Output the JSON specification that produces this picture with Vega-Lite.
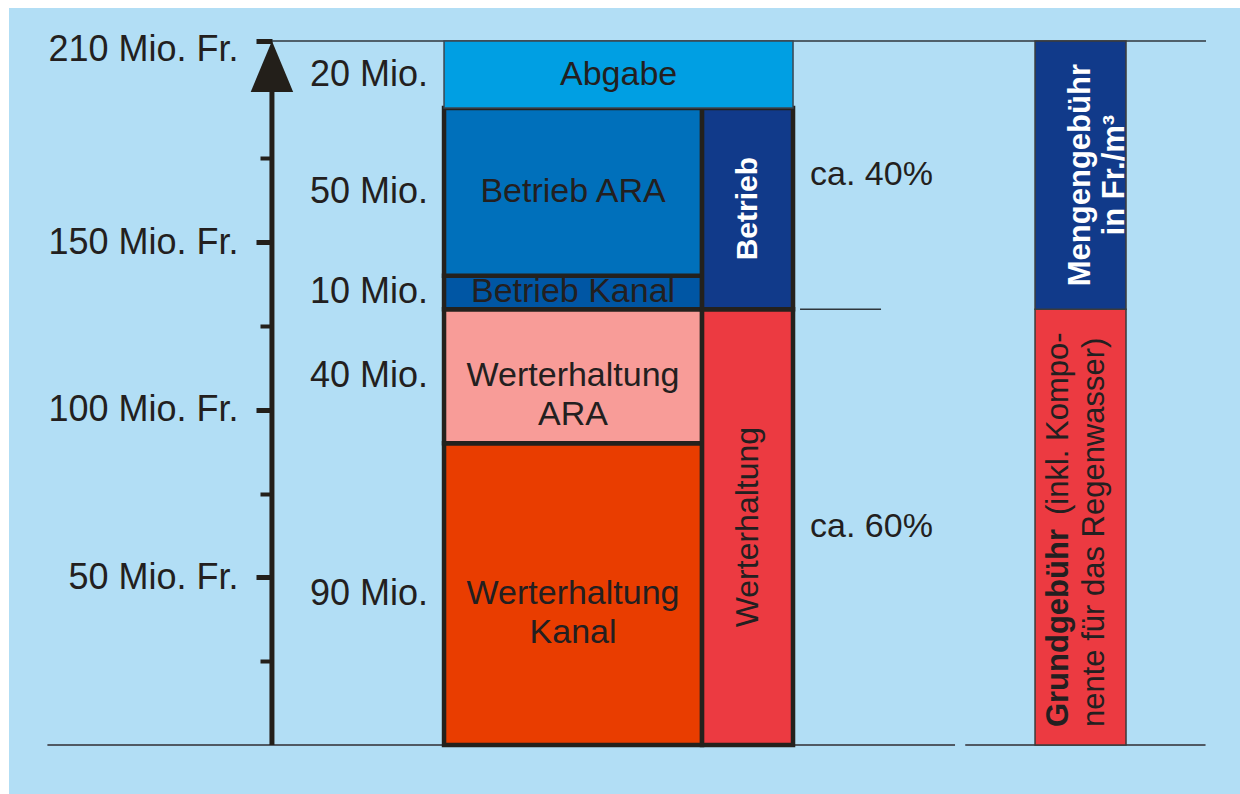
{
  "$schema": "https://vega.github.io/schema/vega-lite/v6.json",
  "width": 1231,
  "height": 786,
  "autosize": {"type": "none"},
  "padding": {"left": 9, "top": 8, "right": 0, "bottom": 0},
  "background": "#ffffff",
  "config": {
    "view": {"fill": "#b2def5", "stroke": null},
    "text": {"font": "Liberation Sans", "fontSize": 34, "color": "#231f20"},
    "axis": {"labelFont": "Liberation Sans", "labelColor": "#231f20", "tickColor": "#231f1a", "domain": false, "grid": false, "title": null, "labelBound": false, "labelFlush": false, "labelOverlap": false, "labelLimit": 0, "zindex": 1}
  },
  "resolve": {"axis": {"y": "independent"}},
  "datasets": {
    "segmente": [
      {"saeule": "Kosten", "posten": "Werterhaltung Kanal", "beschriftung": "Werterhaltung\nKanal", "betrag": 90, "reihenfolge": 1},
      {"saeule": "Kosten", "posten": "Werterhaltung ARA", "beschriftung": "Werterhaltung\nARA", "betrag": 40, "reihenfolge": 2},
      {"saeule": "Kosten", "posten": "Betrieb Kanal", "beschriftung": "Betrieb Kanal", "betrag": 10, "reihenfolge": 3},
      {"saeule": "Kosten", "posten": "Betrieb ARA", "beschriftung": "Betrieb ARA", "betrag": 50, "reihenfolge": 4},
      {"saeule": "Kosten", "posten": "Abgabe", "beschriftung": "Abgabe", "betrag": 20, "reihenfolge": 5},
      {"saeule": "Gruppe", "posten": "Werterhaltung", "beschriftung": "Werterhaltung", "betrag": 130, "reihenfolge": 1},
      {"saeule": "Gruppe", "posten": "Betrieb", "beschriftung": "Betrieb", "betrag": 60, "reihenfolge": 2},
      {"saeule": "Gebühr", "posten": "Grundgebühr", "beschriftung": "Grundgebühr", "zusatz1": "(inkl. Kompo-", "zusatz2": "nente für das Regenwasser)", "anteil": "ca. 60%", "betrag": 130, "reihenfolge": 1},
      {"saeule": "Gebühr", "posten": "Mengengebühr", "beschriftung": "Mengengebühr\nin Fr./m³", "anteil": "ca. 40%", "betrag": 80, "reihenfolge": 2}
    ]
  },
  "data": {"name": "segmente"},
  "transform": [
    {"stack": "betrag", "groupby": ["saeule"], "sort": [{"field": "reihenfolge", "order": "ascending"}], "as": ["von", "bis"]}
  ],
  "layer": [
    {
      "data": {"values": [{}]},
      "mark": {"type": "rule", "color": "#505963", "strokeWidth": 2},
      "encoding": {
        "x": {"datum": 3.12, "type": "quantitative", "scale": {"domain": [0, 100], "nice": false, "zero": false}, "axis": null},
        "x2": {"datum": 76.85},
        "y": {"datum": 0, "type": "quantitative", "scale": {"domain": [-14.6, 219.85], "nice": false, "zero": false}, "axis": null}
      }
    },
    {
      "data": {"values": [{}]},
      "mark": {"type": "rule", "color": "#505963", "strokeWidth": 2},
      "encoding": {
        "x": {"datum": 77.68, "type": "quantitative", "scale": {"domain": [0, 100], "nice": false, "zero": false}, "axis": null},
        "x2": {"datum": 97.2},
        "y": {"datum": 0, "type": "quantitative", "scale": {"domain": [-14.6, 219.85], "nice": false, "zero": false}, "axis": null}
      }
    },
    {
      "data": {"values": [{}]},
      "mark": {"type": "rule", "color": "#2f363c", "strokeWidth": 1.5},
      "encoding": {
        "x": {"datum": 21.36, "type": "quantitative", "scale": {"domain": [0, 100], "nice": false, "zero": false}, "axis": null},
        "x2": {"datum": 97.24},
        "y": {"datum": 210, "type": "quantitative", "scale": {"domain": [-14.6, 219.85], "nice": false, "zero": false}, "axis": null}
      }
    },
    {
      "data": {"values": [{}]},
      "mark": {"type": "rule", "color": "#2f363c", "strokeWidth": 1.5},
      "encoding": {
        "x": {"datum": 64.26, "type": "quantitative", "scale": {"domain": [0, 100], "nice": false, "zero": false}, "axis": null},
        "x2": {"datum": 70.84},
        "y": {"datum": 130, "type": "quantitative", "scale": {"domain": [-14.6, 219.85], "nice": false, "zero": false}, "axis": null}
      }
    },
    {
      "data": {"values": [{}]},
      "mark": {"type": "rule", "color": "#231f1a", "strokeWidth": 5},
      "encoding": {
        "x": {"datum": 21.36, "type": "quantitative", "scale": {"domain": [0, 100], "nice": false, "zero": false}, "axis": null},
        "y": {"datum": 0, "type": "quantitative", "scale": {"domain": [-14.6, 219.85], "nice": false, "zero": false}, "axis": null},
        "y2": {"datum": 200}
      }
    },
    {
      "data": {"values": [{}]},
      "mark": {"type": "point", "shape": "M0,0L-1,2.4L1,2.4Z", "size": 1806, "filled": true, "color": "#231f1a", "opacity": 1},
      "encoding": {
        "x": {"datum": 21.36, "type": "quantitative", "scale": {"domain": [0, 100], "nice": false, "zero": false}, "axis": null},
        "y": {"datum": 210, "type": "quantitative", "scale": {"domain": [-14.6, 219.85], "nice": false, "zero": false}, "axis": null}
      }
    },
    {
      "transform": [{"filter": "datum.saeule === 'Kosten' && datum.posten !== 'Abgabe'"}],
      "mark": {"type": "rect", "stroke": "#24211d", "strokeWidth": 4.5},
      "encoding": {
        "x": {"datum": 35.34, "type": "quantitative", "scale": {"domain": [0, 100], "nice": false, "zero": false}, "axis": null},
        "x2": {"datum": 56.3},
        "y": {
          "field": "von", "type": "quantitative",
          "scale": {"domain": [-14.6, 219.85], "nice": false, "zero": false},
          "axis": {
            "orient": "left",
            "offset": -263,
            "values": [50, 100, 150],
            "tickSize": 16,
            "tickWidth": 5,
            "labelExpr": "datum.value + ' Mio. Fr.'",
            "labelFontSize": 36,
            "labelPadding": 18
          }
        },
        "y2": {"field": "bis"},
        "color": {
          "field": "posten", "type": "nominal", "legend": null,
          "scale": {
            "domain": ["Abgabe", "Betrieb ARA", "Betrieb Kanal", "Werterhaltung ARA", "Werterhaltung Kanal", "Betrieb", "Werterhaltung", "Mengengebühr", "Grundgebühr"],
            "range": ["#009fe3", "#0070bb", "#0056a4", "#f89c98", "#e93d00", "#113a8a", "#ec3a41", "#113a8a", "#ec3a41"]
          }
        }
      }
    },
    {
      "transform": [{"filter": "datum.saeule === 'Gruppe'"}],
      "mark": {"type": "rect", "stroke": "#24211d", "strokeWidth": 4.5},
      "encoding": {
        "x": {"datum": 56.3, "type": "quantitative", "scale": {"domain": [0, 100], "nice": false, "zero": false}, "axis": null},
        "x2": {"datum": 63.69},
        "y": {
          "field": "von", "type": "quantitative",
          "scale": {"domain": [-14.6, 219.85], "nice": false, "zero": false},
          "axis": {
            "orient": "left",
            "offset": -263,
            "values": [25, 75, 125, 175],
            "tickSize": 12,
            "tickWidth": 4,
            "labels": false
          }
        },
        "y2": {"field": "bis"},
        "color": {
          "field": "posten", "type": "nominal", "legend": null,
          "scale": {
            "domain": ["Abgabe", "Betrieb ARA", "Betrieb Kanal", "Werterhaltung ARA", "Werterhaltung Kanal", "Betrieb", "Werterhaltung", "Mengengebühr", "Grundgebühr"],
            "range": ["#009fe3", "#0070bb", "#0056a4", "#f89c98", "#e93d00", "#113a8a", "#ec3a41", "#113a8a", "#ec3a41"]
          }
        }
      }
    },
    {
      "transform": [{"filter": "datum.posten === 'Abgabe'"}],
      "mark": {"type": "rect", "stroke": "#3b4650", "strokeWidth": 1.5},
      "encoding": {
        "x": {"datum": 35.34, "type": "quantitative", "scale": {"domain": [0, 100], "nice": false, "zero": false}, "axis": null},
        "x2": {"datum": 63.69},
        "y": {
          "field": "von", "type": "quantitative",
          "scale": {"domain": [-14.6, 219.85], "nice": false, "zero": false},
          "axis": {
            "orient": "left",
            "offset": -263,
            "values": [210],
            "tickSize": 16,
            "tickWidth": 5,
            "labelExpr": "datum.value + ' Mio. Fr.'",
            "labelFontSize": 36,
            "labelPadding": 18,
            "labelOffset": 8
          }
        },
        "y2": {"field": "bis"},
        "color": {
          "field": "posten", "type": "nominal", "legend": null,
          "scale": {
            "domain": ["Abgabe", "Betrieb ARA", "Betrieb Kanal", "Werterhaltung ARA", "Werterhaltung Kanal", "Betrieb", "Werterhaltung", "Mengengebühr", "Grundgebühr"],
            "range": ["#009fe3", "#0070bb", "#0056a4", "#f89c98", "#e93d00", "#113a8a", "#ec3a41", "#113a8a", "#ec3a41"]
          }
        }
      }
    },
    {
      "transform": [{"filter": "datum.saeule === 'Gebühr'"}],
      "mark": {"type": "rect", "stroke": "#3b3b3b", "strokeWidth": 1.5},
      "encoding": {
        "x": {"datum": 83.35, "type": "quantitative", "scale": {"domain": [0, 100], "nice": false, "zero": false}, "axis": null},
        "x2": {"datum": 90.74},
        "y": {"field": "von", "type": "quantitative", "scale": {"domain": [-14.6, 219.85], "nice": false, "zero": false}, "axis": null},
        "y2": {"field": "bis"},
        "color": {
          "field": "posten", "type": "nominal", "legend": null,
          "scale": {
            "domain": ["Abgabe", "Betrieb ARA", "Betrieb Kanal", "Werterhaltung ARA", "Werterhaltung Kanal", "Betrieb", "Werterhaltung", "Mengengebühr", "Grundgebühr"],
            "range": ["#009fe3", "#0070bb", "#0056a4", "#f89c98", "#e93d00", "#113a8a", "#ec3a41", "#113a8a", "#ec3a41"]
          }
        }
      }
    },
    {
      "transform": [
        {"filter": "datum.saeule === 'Kosten'"},
        {"fold": ["von", "bis"], "as": ["grenze", "wert"]}
      ],
      "mark": {"type": "text", "align": "right", "baseline": "middle", "fontSize": 36, "text": {"expr": "datum.betrag + ' Mio.'"}},
      "encoding": {
        "x": {"datum": 34.04, "type": "quantitative", "scale": {"domain": [0, 100], "nice": false, "zero": false}, "axis": null},
        "y": {"field": "wert", "aggregate": "mean", "type": "quantitative", "scale": {"domain": [-14.6, 219.85], "nice": false, "zero": false}, "axis": null},
        "detail": {"field": "betrag", "type": "quantitative"}
      }
    },
    {
      "transform": [
        {"filter": "datum.saeule === 'Kosten' && datum.posten !== 'Abgabe'"},
        {"fold": ["von", "bis"], "as": ["grenze", "wert"]}
      ],
      "mark": {"type": "text", "align": "center", "baseline": "middle", "lineBreak": "\n", "lineHeight": 39},
      "encoding": {
        "x": {"datum": 45.82, "type": "quantitative", "scale": {"domain": [0, 100], "nice": false, "zero": false}, "axis": null},
        "y": {"field": "wert", "aggregate": "mean", "type": "quantitative", "scale": {"domain": [-14.6, 219.85], "nice": false, "zero": false}, "axis": null},
        "text": {"field": "beschriftung", "type": "nominal"}
      }
    },
    {
      "transform": [
        {"filter": "datum.posten === 'Abgabe'"},
        {"fold": ["von", "bis"], "as": ["grenze", "wert"]}
      ],
      "mark": {"type": "text", "align": "center", "baseline": "middle"},
      "encoding": {
        "x": {"datum": 49.52, "type": "quantitative", "scale": {"domain": [0, 100], "nice": false, "zero": false}, "axis": null},
        "y": {"field": "wert", "aggregate": "mean", "type": "quantitative", "scale": {"domain": [-14.6, 219.85], "nice": false, "zero": false}, "axis": null},
        "text": {"field": "beschriftung", "type": "nominal"}
      }
    },
    {
      "transform": [
        {"filter": "datum.posten === 'Betrieb'"},
        {"fold": ["von", "bis"], "as": ["grenze", "wert"]}
      ],
      "mark": {"type": "text", "align": "center", "baseline": "middle", "angle": 270, "fontWeight": "bold", "fontSize": 30, "color": "#ffffff"},
      "encoding": {
        "x": {"datum": 60.0, "type": "quantitative", "scale": {"domain": [0, 100], "nice": false, "zero": false}, "axis": null},
        "y": {"field": "wert", "aggregate": "mean", "type": "quantitative", "scale": {"domain": [-14.6, 219.85], "nice": false, "zero": false}, "axis": null},
        "text": {"field": "beschriftung", "type": "nominal"}
      }
    },
    {
      "transform": [
        {"filter": "datum.posten === 'Werterhaltung'"},
        {"fold": ["von", "bis"], "as": ["grenze", "wert"]}
      ],
      "mark": {"type": "text", "align": "center", "baseline": "middle", "angle": 270, "fontSize": 32},
      "encoding": {
        "x": {"datum": 60.0, "type": "quantitative", "scale": {"domain": [0, 100], "nice": false, "zero": false}, "axis": null},
        "y": {"field": "wert", "aggregate": "mean", "type": "quantitative", "scale": {"domain": [-14.6, 219.85], "nice": false, "zero": false}, "axis": null},
        "text": {"field": "beschriftung", "type": "nominal"}
      }
    },
    {
      "transform": [
        {"filter": "datum.saeule === 'Gebühr'"},
        {"fold": ["von", "bis"], "as": ["grenze", "wert"]}
      ],
      "mark": {"type": "text", "align": "left", "baseline": "middle"},
      "encoding": {
        "x": {"datum": 65.07, "type": "quantitative", "scale": {"domain": [0, 100], "nice": false, "zero": false}, "axis": null},
        "y": {"field": "wert", "aggregate": "mean", "type": "quantitative", "scale": {"domain": [-14.6, 219.85], "nice": false, "zero": false}, "axis": null},
        "text": {"field": "anteil", "type": "nominal"}
      }
    },
    {
      "transform": [
        {"filter": "datum.posten === 'Mengengebühr'"},
        {"fold": ["von", "bis"], "as": ["grenze", "wert"]}
      ],
      "mark": {"type": "text", "align": "center", "baseline": "middle", "angle": 270, "fontWeight": "bold", "fontSize": 31, "color": "#ffffff", "lineBreak": "\n", "lineHeight": 34},
      "encoding": {
        "x": {"datum": 87.05, "type": "quantitative", "scale": {"domain": [0, 100], "nice": false, "zero": false}, "axis": null},
        "y": {"field": "wert", "aggregate": "mean", "type": "quantitative", "scale": {"domain": [-14.6, 219.85], "nice": false, "zero": false}, "axis": null},
        "text": {"field": "beschriftung", "type": "nominal"}
      }
    },
    {
      "transform": [{"filter": "datum.posten === 'Grundgebühr'"}],
      "mark": {"type": "text", "align": "left", "baseline": "middle", "angle": 270, "fontWeight": "bold", "fontSize": 31, "dx": 18, "dy": -22},
      "encoding": {
        "x": {"datum": 87.05, "type": "quantitative", "scale": {"domain": [0, 100], "nice": false, "zero": false}, "axis": null},
        "y": {"field": "von", "type": "quantitative", "scale": {"domain": [-14.6, 219.85], "nice": false, "zero": false}, "axis": null},
        "text": {"field": "beschriftung", "type": "nominal"}
      }
    },
    {
      "transform": [{"filter": "datum.posten === 'Grundgebühr'"}],
      "mark": {"type": "text", "align": "left", "baseline": "middle", "angle": 270, "fontSize": 31, "dx": 230, "dy": -22},
      "encoding": {
        "x": {"datum": 87.05, "type": "quantitative", "scale": {"domain": [0, 100], "nice": false, "zero": false}, "axis": null},
        "y": {"field": "von", "type": "quantitative", "scale": {"domain": [-14.6, 219.85], "nice": false, "zero": false}, "axis": null},
        "text": {"field": "zusatz1", "type": "nominal"}
      }
    },
    {
      "transform": [{"filter": "datum.posten === 'Grundgebühr'"}],
      "mark": {"type": "text", "align": "left", "baseline": "middle", "angle": 270, "fontSize": 31, "dx": 18, "dy": 14},
      "encoding": {
        "x": {"datum": 87.05, "type": "quantitative", "scale": {"domain": [0, 100], "nice": false, "zero": false}, "axis": null},
        "y": {"field": "von", "type": "quantitative", "scale": {"domain": [-14.6, 219.85], "nice": false, "zero": false}, "axis": null},
        "text": {"field": "zusatz2", "type": "nominal"}
      }
    }
  ]
}
